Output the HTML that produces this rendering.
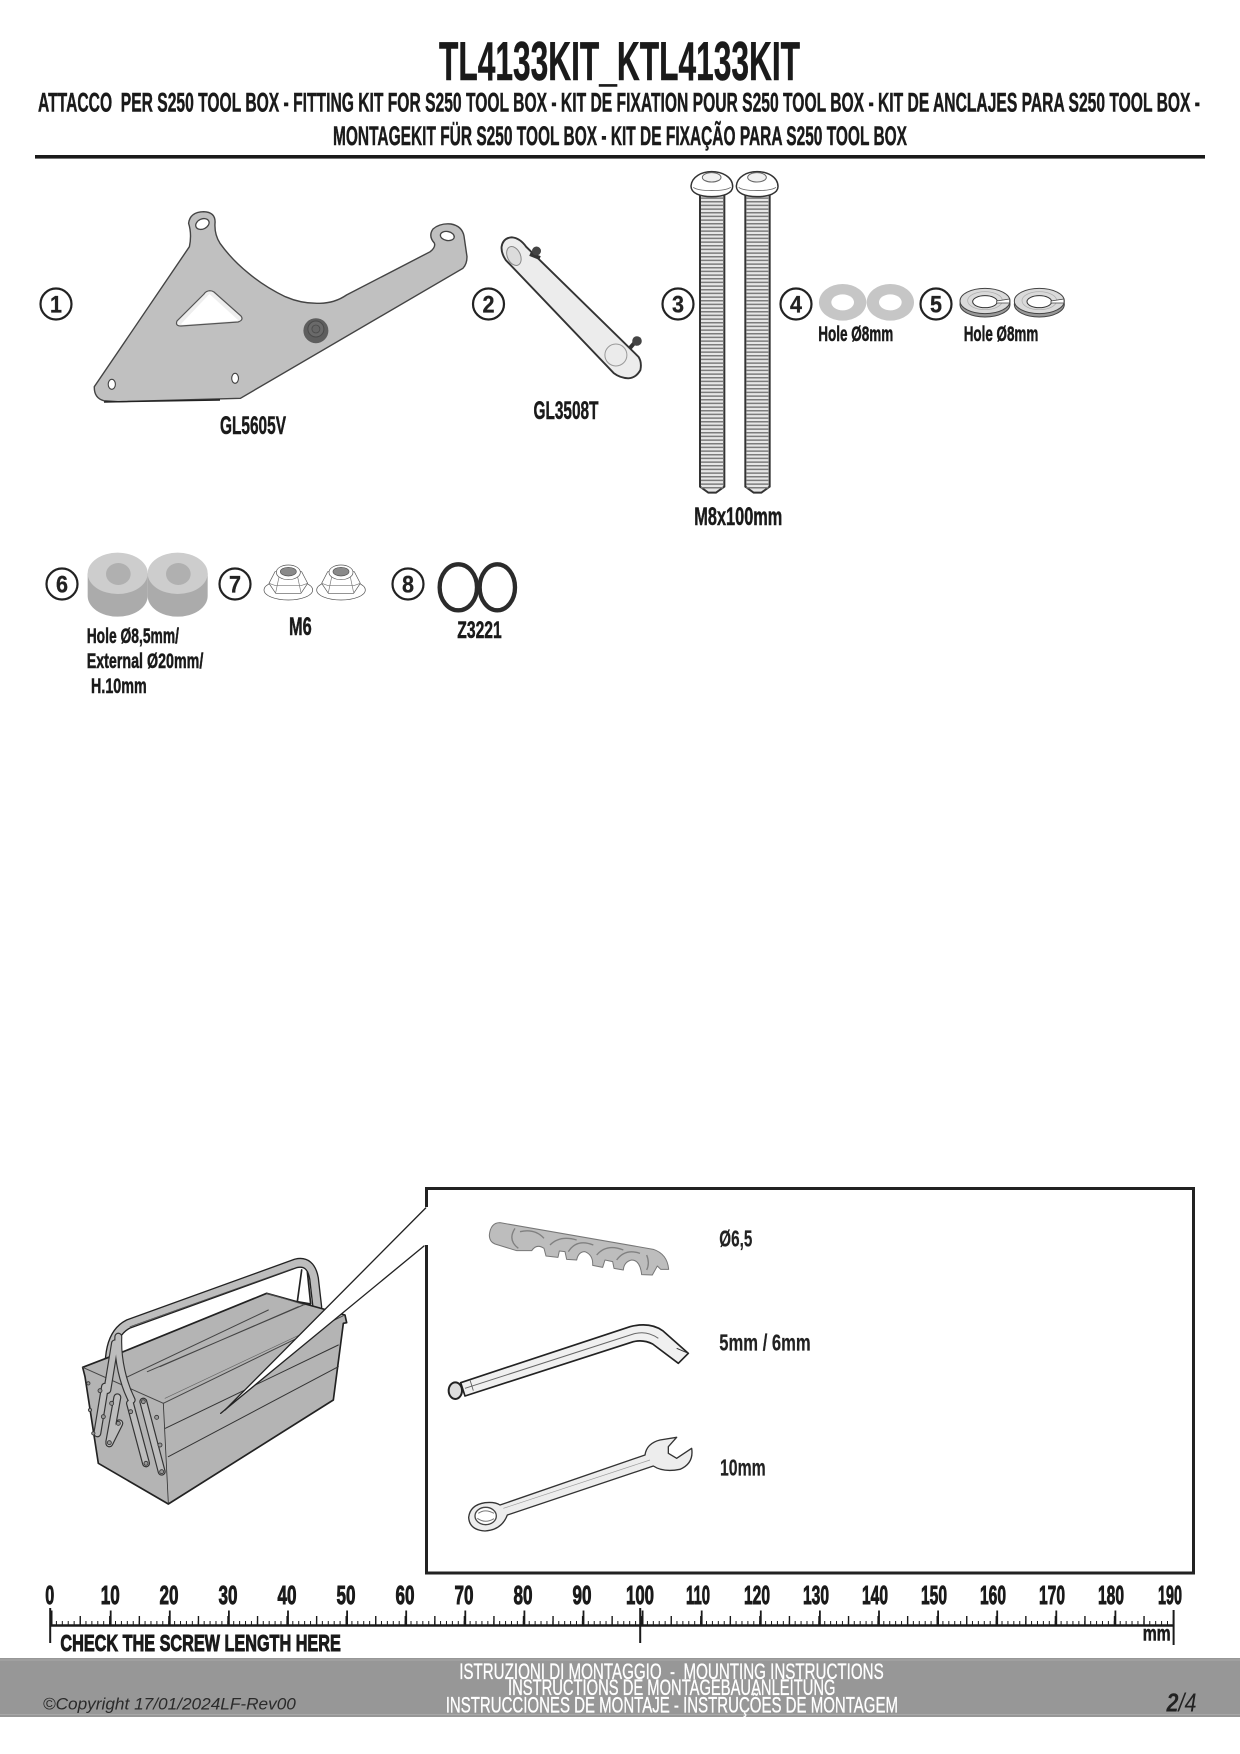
<!DOCTYPE html>
<html><head><meta charset="utf-8"><style>
html,body{margin:0;padding:0;background:#fff}
svg{display:block}
text{font-family:"Liberation Sans",sans-serif}
.b{font-weight:bold;fill:#1a1a1a;stroke:#1a1a1a;stroke-width:.5}
.h{font-weight:bold;fill:#1a1a1a;stroke:#1a1a1a;stroke-width:.9}
.n{fill:#222;stroke:#222;stroke-width:.2;font-weight:bold}
.f{fill:#fff;stroke:#fff;stroke-width:.35;font-size:22px}
.c{fill:#fff;stroke:#222;stroke-width:2.2}
.cn{font-weight:bold;font-size:24px;fill:#222;stroke:#222;stroke-width:.3}
</style></head><body>
<svg width="1240" height="1754" viewBox="0 0 1240 1754" xmlns="http://www.w3.org/2000/svg">
<defs>
<g id="bolt">
<path d="M180,100 V980 L205,998 H228 L253,980 V100 Z" fill="#e6e6e6" stroke="#333" stroke-width="6"/>
<line x1="216" y1="112" x2="216" y2="990" stroke="#7c7c7c" stroke-width="66" stroke-dasharray="4.5 6.5"/>
<path d="M153,78 C155,50 185,35 215,35 C245,35 278,50 278,80 C278,100 250,110 215,110 C180,110 153,100 153,78Z" fill="#fff" stroke="#333" stroke-width="4.5"/>
<path d="M160,82 C175,95 255,95 272,82" fill="none" stroke="#666" stroke-width="2.5"/>
<ellipse cx="215" cy="52" rx="28" ry="14" fill="#f0f0f0" stroke="#666" stroke-width="3"/>
</g>
<g id="washer"><ellipse cx="0" cy="0" rx="71" ry="55" fill="#c6c6c6"/><ellipse cx="0" cy="0" rx="34" ry="24" fill="#fff"/></g>
<g id="lock">
<ellipse cx="0" cy="8" rx="75" ry="38" fill="#999" stroke="#444" stroke-width="3"/>
<ellipse cx="0" cy="-2" rx="75" ry="38" fill="#dadada" stroke="#444" stroke-width="3"/>
<ellipse cx="0" cy="0" rx="37" ry="18" fill="#fff" stroke="#333" stroke-width="3"/>
<ellipse cx="0" cy="-3" rx="52" ry="27" fill="none" stroke="#aaa" stroke-width="2"/>
<path d="M35,-2 L74,-8 V4 L35,4Z" fill="#fff" stroke="#444" stroke-width="2.5"/>
</g>
<g id="spacer">
<path d="M-90,0 V68 A90,62 0 0 0 90,68 V0Z" fill="#ababab"/>
<ellipse cx="0" cy="0" rx="90" ry="62" fill="#cdcdcd"/>
<ellipse cx="2" cy="2" rx="37" ry="33" fill="#b0b0b0"/>
</g>
<g id="nut" fill="#fff" stroke="#555" stroke-width="2">
<ellipse cx="0" cy="25" rx="73" ry="30"/>
<path d="M-58,5 L-40,-30 H40 L58,5 L38,35 H-38Z"/>
<path d="M-25,-28 L-38,33 M25,-28 L38,33 M-58,5 L-38,12 H38 L58,5" stroke="#777" fill="none"/>
<ellipse cx="0" cy="-28" rx="36" ry="22"/>
<ellipse cx="0" cy="-30" rx="24" ry="13" fill="#8a8a8a"/>
</g>
</defs>

<!-- Header -->
<text x="439" y="80" font-size="55" class="b" textLength="361" lengthAdjust="spacingAndGlyphs">TL4133KIT_KTL4133KIT</text>
<text x="38" y="111.5" font-size="27" class="b" textLength="1162" lengthAdjust="spacingAndGlyphs" xml:space="preserve">ATTACCO  PER S250 TOOL BOX - FITTING KIT FOR S250 TOOL BOX - KIT DE FIXATION POUR S250 TOOL BOX - KIT DE ANCLAJES PARA S250 TOOL BOX -</text>
<text x="333" y="145" font-size="27" class="b" textLength="574" lengthAdjust="spacingAndGlyphs">MONTAGEKIT FÜR S250 TOOL BOX - KIT DE FIXAÇÃO PARA S250 TOOL BOX</text>
<rect x="35" y="155" width="1170" height="3.6" fill="#1a1a1a"/>

<!-- Circled numbers -->
<g>
<circle class="c" cx="56" cy="304" r="15.5"/><text class="cn" x="50" y="312.5" textLength="12" lengthAdjust="spacingAndGlyphs">1</text>
<circle class="c" cx="488.5" cy="304" r="15.5"/><text class="cn" x="482.5" y="312.5" textLength="12" lengthAdjust="spacingAndGlyphs">2</text>
<circle class="c" cx="678" cy="304" r="15.5"/><text class="cn" x="672" y="312.5" textLength="12" lengthAdjust="spacingAndGlyphs">3</text>
<circle class="c" cx="796" cy="304" r="15.5"/><text class="cn" x="790" y="312.5" textLength="12" lengthAdjust="spacingAndGlyphs">4</text>
<circle class="c" cx="936" cy="304" r="15.5"/><text class="cn" x="930" y="312.5" textLength="12" lengthAdjust="spacingAndGlyphs">5</text>
<circle class="c" cx="62" cy="584" r="15.5"/><text class="cn" x="56" y="592.5" textLength="12" lengthAdjust="spacingAndGlyphs">6</text>
<circle class="c" cx="235" cy="584" r="15.5"/><text class="cn" x="229" y="592.5" textLength="12" lengthAdjust="spacingAndGlyphs">7</text>
<circle class="c" cx="408" cy="584" r="15.5"/><text class="cn" x="402" y="592.5" textLength="12" lengthAdjust="spacingAndGlyphs">8</text>
</g>

<!-- Part 1 bracket -->
<path d="M94.3,386.7 L189.4,246.7 Q192,234 188.6,223.3 Q190,212 203.7,211.7 Q215,212 215.1,222 Q214,234 220,243.3 Q232,260 248.6,273.3 Q265,287 285.3,296.7 Q302,304 320,303.3 Q335,303 346.5,295 L430.2,251.7 Q436,247 434.3,243 Q428,236 433,229 Q440,223 451,224 Q462,226 464,236 L467,256.7 Q467,264 462.9,268.3 L240.4,398.3 L118,401.7 L103.7,400.7 Q94,398 94.3,386.7Z" fill="#c0c0c0" stroke="#444" stroke-width="1.4"/>
<path d="M104,402 L220,400" stroke="#222" stroke-width="1.4"/>
<path d="M209.8,290.7 Q206,291 204,294 L177,321 Q175,326 181,326 L238,322 Q244,320 241,316 L214,292 Q212,290.7 209.8,290.7Z" fill="#eee" stroke="#555" stroke-width="1.2"/>
<path d="M209.5,295 L182,324 L237,320Z" fill="#fff" stroke="#fff" stroke-width="1.5" stroke-linejoin="round"/>
<ellipse cx="202.4" cy="224" rx="7" ry="5" fill="#fff" stroke="#444" stroke-width="1.3" transform="rotate(-25 202.4 224)"/>
<ellipse cx="447.3" cy="236" rx="7" ry="4.5" fill="#fff" stroke="#444" stroke-width="1.3" transform="rotate(10 447.3 236)"/>
<ellipse cx="111.8" cy="384.3" rx="3.6" ry="5" fill="#fff" stroke="#444" stroke-width="1.1"/>
<ellipse cx="235.1" cy="378.3" rx="3.4" ry="5" fill="#fff" stroke="#444" stroke-width="1.1"/>
<circle cx="315.9" cy="330.7" r="12.5" fill="#5e5e5e"/>
<circle cx="315.9" cy="329" r="8" fill="#6a6a6a" stroke="#4a4a4a" stroke-width="1"/>
<circle cx="315.9" cy="329" r="4" fill="#666" stroke="#4a4a4a" stroke-width=".8"/>
<text x="220" y="434" font-size="25" class="b" textLength="66" lengthAdjust="spacingAndGlyphs">GL5605V</text>

<!-- Part 2 -->
<path d="M501.6,246.7 Q503,238 511.8,237.3 Q520,238 526.1,246.7 L638.4,356.7 Q642,362 640.4,370 Q636,378 628.2,378.3 Q620,378 613.9,373.3 L505.7,260 Q501,253 501.6,246.7Z" fill="#ececec" stroke="#333" stroke-width="1.9"/>
<ellipse cx="513.9" cy="256" rx="6.5" ry="10" fill="#dcdcdc" stroke="#888" transform="rotate(-25 513.9 256)"/>
<circle cx="615.9" cy="355" r="11" fill="#ebebeb" stroke="#999"/>
<path d="M530,254 L540,258" stroke="#333" stroke-width="4"/><circle cx="536.5" cy="251" r="4.5" fill="#444"/>
<path d="M630,348 L637,340" stroke="#333" stroke-width="4"/><circle cx="637" cy="341" r="4.8" fill="#444"/>
<text x="533.5" y="419" font-size="25" class="b" textLength="65" lengthAdjust="spacingAndGlyphs">GL3508T</text>

<!-- Part 3 bolts -->
<g transform="translate(640 160) scale(.33333)">
<use href="#bolt"/><use href="#bolt" x="136"/>
</g>
<text x="694.3" y="525" font-size="25" class="b" textLength="88" lengthAdjust="spacingAndGlyphs">M8x100mm</text>

<!-- Parts 4, 5 -->
<g transform="translate(640 160) scale(.33333)">
<use href="#washer" x="608" y="427"/><use href="#washer" x="751" y="427"/>
<use href="#lock" x="1035" y="425"/><use href="#lock" x="1198" y="425"/>
</g>
<text x="818.3" y="341" font-size="21" class="b" textLength="75" lengthAdjust="spacingAndGlyphs">Hole Ø8mm</text>
<text x="963.7" y="341" font-size="21" class="b" textLength="74.6" lengthAdjust="spacingAndGlyphs">Hole Ø8mm</text>

<!-- Part 6, 7, 8 -->
<g transform="translate(30 530) scale(.33333)">
<use href="#spacer" x="443" y="130"/><use href="#spacer" x="263" y="130"/>
<use href="#nut" x="775" y="155"/><use href="#nut" x="933" y="155"/>
<ellipse cx="1285" cy="172" rx="56" ry="69" fill="none" stroke="#2b2b2b" stroke-width="13"/>
<ellipse cx="1402" cy="172" rx="53" ry="69" fill="none" stroke="#2b2b2b" stroke-width="13"/>
</g>
<text x="86.7" y="643" font-size="21" class="b" textLength="92.3" lengthAdjust="spacingAndGlyphs">Hole Ø8,5mm/</text>
<text x="86.7" y="668" font-size="21" class="b" textLength="116.6" lengthAdjust="spacingAndGlyphs">External Ø20mm/</text>
<text x="91" y="693" font-size="21" class="b" textLength="55.7" lengthAdjust="spacingAndGlyphs">H.10mm</text>
<text x="289" y="635" font-size="25" class="b" textLength="22.7" lengthAdjust="spacingAndGlyphs">M6</text>
<text x="457.3" y="638" font-size="24" class="b" textLength="44.4" lengthAdjust="spacingAndGlyphs">Z3221</text>

<!-- Toolbox -->
<g transform="translate(60 1170) scale(.33333)" stroke-linejoin="round" stroke-linecap="round">
<path d="M150,655 C143,560 150,490 205,462 L708,280 Q752,270 762,325 L772,412" fill="none" stroke="#222" stroke-width="30"/>
<path d="M150,655 C143,560 150,490 205,462 L708,280 Q752,270 762,325 L772,412" fill="none" stroke="#bdbdbd" stroke-width="22"/>
<path d="M725,300 L712,395 L752,402 L742,305" fill="#fff" stroke="#222" stroke-width="5"/>
<path d="M210,470 L700,295" fill="none" stroke="#444" stroke-width="2"/>
<path d="M68,592 L190,545 L620,370 L855,435 L860,458 L850,460 L820,690 L325,1002 L115,880 L75,620 Z" fill="#b4b4b4" stroke="#222" stroke-width="5"/>
<path d="M310,700 L325,1000" fill="none" stroke="#333" stroke-width="2.5"/>
<path d="M68,592 L310,700 L850,437" fill="none" stroke="#444" stroke-width="3"/>
<path d="M315,685 L835,440" fill="none" stroke="#666" stroke-width="2"/>
<path d="M316,775 L835,525 M325,860 L835,590" fill="none" stroke="#333" stroke-width="3"/>
<path d="M195,624 L625,420 M262,605 L730,405 M300,590 L715,410" fill="none" stroke="#444" stroke-width="3"/>
<path d="M620,370 L735,405" fill="none" stroke="#555" stroke-width="2"/>
<g fill="none">
<g stroke="#333" stroke-width="24">
<path d="M135,650 L112,790"/><path d="M172,682 L148,815"/><path d="M178,760 L148,820"/>
<path d="M250,695 L305,905"/><path d="M210,700 L258,880"/>
<path d="M175,500 C172,570 190,640 215,690"/><path d="M165,520 L142,660"/>
</g>
<g stroke="#bdbdbd" stroke-width="17">
<path d="M135,650 L112,790"/><path d="M172,682 L148,815"/><path d="M178,760 L148,820"/>
<path d="M250,695 L305,905"/><path d="M210,700 L258,880"/>
<path d="M175,500 C172,570 190,640 215,690"/><path d="M165,520 L142,660"/>
</g>
</g>
<g fill="#999" stroke="#333" stroke-width="2.5">
<circle cx="250" cy="695" r="6"/><circle cx="305" cy="905" r="6"/><circle cx="258" cy="880" r="6"/><circle cx="212" cy="725" r="6"/>
<circle cx="290" cy="742" r="6"/><circle cx="300" cy="825" r="6"/><circle cx="175" cy="760" r="6"/><circle cx="148" cy="818" r="6"/>
<circle cx="120" cy="662" r="6"/><circle cx="130" cy="740" r="6"/><circle cx="155" cy="700" r="6"/><circle cx="85" cy="640" r="5"/><circle cx="90" cy="720" r="5"/><circle cx="100" cy="790" r="5"/>
</g>
<path d="M1097,112 L490,725 L480,730 L1097,225Z" fill="#fff" stroke="none"/>
<path d="M1097,114 L495,720" stroke="#222" stroke-width="4" fill="none"/>
<path d="M1092,228 L482,730" stroke="#222" stroke-width="4" fill="none"/>
</g>

<!-- Frame -->
<path d="M426.5,1207 V1188.5 H1193.5 V1573 H426.5 V1245" fill="none" stroke="#222" stroke-width="3"/>

<!-- Tools -->
<g transform="translate(420 1180) scale(.33333)" stroke-linejoin="round">
<path d="M208,165 Q212,128 240,128 L700,208 Q742,222 746,268 L722,268 L712,258 L697,285 L665,284 Q660,240 635,240 Q612,245 610,270 L582,265 L578,245 L555,240 L548,262 L518,256 Q520,225 495,215 Q475,215 470,240 L440,238 L435,215 L418,213 L414,232 L378,228 L372,205 Q350,190 335,212 L290,212 L225,192 Q208,185 208,165Z" fill="#bdbdbd" stroke="#777" stroke-width="3"/>
<path d="M285,145 Q262,180 295,205 M300,155 Q345,145 372,175 M390,195 Q420,165 470,180 M445,215 Q470,175 520,195 M530,225 Q560,190 610,210 M590,240 Q615,205 660,220 M680,225 Q690,250 680,270" fill="none" stroke="#808080" stroke-width="4"/>
<path d="M122,608 L630,440 Q690,425 728,452 L805,520 L775,550 L698,492 Q670,478 640,485 L135,648 Z" fill="#f0f0f0" stroke="#222" stroke-width="5"/>
<path d="M135,625 L640,462 Q680,450 715,475" fill="none" stroke="#666" stroke-width="3"/>
<path d="M150,600 L160,632" stroke="#555" stroke-width="2.5"/>
<path d="M770,505 L805,520" stroke="#333" stroke-width="3"/>
<ellipse cx="106" cy="632" rx="20" ry="25" fill="#ddd" stroke="#222" stroke-width="6"/>
<path d="M240,975 L675,825 Q680,790 720,780 L770,772 L745,800 L745,820 L770,835 L815,805 Q822,850 780,868 Q730,878 700,858 L262,1005 Q245,1050 195,1053 Q148,1050 146,1012 Q150,975 195,968 Q225,965 240,975Z" fill="#ededed" stroke="#333" stroke-width="4"/>
<ellipse cx="197" cy="1008" rx="32" ry="26" fill="#fff" stroke="#444" stroke-width="4"/>
<path d="M175,1000 Q195,985 222,1000 M172,1015 Q195,1032 222,1016" fill="none" stroke="#777" stroke-width="3"/>
<path d="M250,985 L690,840" fill="none" stroke="#999" stroke-width="2"/>
</g>
<g class="n" fill="#222">
<text x="719.3" y="1246.7" font-size="23" class="n" textLength="33" lengthAdjust="spacingAndGlyphs">Ø6,5</text>
<text x="719.3" y="1350.5" font-size="23" class="n" textLength="91.4" lengthAdjust="spacingAndGlyphs">5mm / 6mm</text>
<text x="720" y="1475.5" font-size="23" class="n" textLength="45.7" lengthAdjust="spacingAndGlyphs">10mm</text>
</g>

<!-- Ruler -->
<g stroke="#1a1a1a" fill="none">
<line x1="50" y1="1625.5" x2="1174" y2="1625.5" stroke-width="2.6"/>
<line x1="50" y1="1623" x2="1174" y2="1623" stroke-width="4" stroke-dasharray="1 4.91"/>
<line x1="50" y1="1620.5" x2="1174" y2="1620.5" stroke-width="9" stroke-dasharray="1.4 28.15"/>
<line x1="50.7" y1="1618" x2="1174" y2="1618" stroke-width="15" stroke-dasharray="1.8 57.3"/>
<line x1="50.2" y1="1608" x2="50.2" y2="1643" stroke-width="2"/>
<line x1="640.2" y1="1608" x2="640.2" y2="1643" stroke-width="2"/>
<line x1="1173.6" y1="1610" x2="1173.6" y2="1645" stroke-width="2"/>
</g>
<g class="h" font-size="26" text-anchor="middle">
<text x="49.8" y="1604" class="h" text-anchor="middle" textLength="9" lengthAdjust="spacingAndGlyphs">0</text>
<text x="110.2" y="1604" class="h" text-anchor="middle" textLength="19" lengthAdjust="spacingAndGlyphs">10</text>
<text x="169" y="1604" class="h" text-anchor="middle" textLength="19" lengthAdjust="spacingAndGlyphs">20</text>
<text x="228" y="1604" class="h" text-anchor="middle" textLength="19" lengthAdjust="spacingAndGlyphs">30</text>
<text x="287" y="1604" class="h" text-anchor="middle" textLength="19" lengthAdjust="spacingAndGlyphs">40</text>
<text x="346" y="1604" class="h" text-anchor="middle" textLength="19" lengthAdjust="spacingAndGlyphs">50</text>
<text x="405" y="1604" class="h" text-anchor="middle" textLength="19" lengthAdjust="spacingAndGlyphs">60</text>
<text x="464" y="1604" class="h" text-anchor="middle" textLength="19" lengthAdjust="spacingAndGlyphs">70</text>
<text x="523" y="1604" class="h" text-anchor="middle" textLength="19" lengthAdjust="spacingAndGlyphs">80</text>
<text x="582" y="1604" class="h" text-anchor="middle" textLength="19" lengthAdjust="spacingAndGlyphs">90</text>
<text x="640" y="1604" class="h" text-anchor="middle" textLength="28" lengthAdjust="spacingAndGlyphs">100</text>
<text x="698" y="1604" class="h" text-anchor="middle" textLength="24" lengthAdjust="spacingAndGlyphs">110</text>
<text x="757" y="1604" class="h" text-anchor="middle" textLength="26" lengthAdjust="spacingAndGlyphs">120</text>
<text x="816" y="1604" class="h" text-anchor="middle" textLength="26" lengthAdjust="spacingAndGlyphs">130</text>
<text x="875" y="1604" class="h" text-anchor="middle" textLength="26" lengthAdjust="spacingAndGlyphs">140</text>
<text x="934" y="1604" class="h" text-anchor="middle" textLength="26" lengthAdjust="spacingAndGlyphs">150</text>
<text x="993" y="1604" class="h" text-anchor="middle" textLength="26" lengthAdjust="spacingAndGlyphs">160</text>
<text x="1052" y="1604" class="h" text-anchor="middle" textLength="26" lengthAdjust="spacingAndGlyphs">170</text>
<text x="1111" y="1604" class="h" text-anchor="middle" textLength="26" lengthAdjust="spacingAndGlyphs">180</text>
<text x="1170" y="1604" class="h" text-anchor="middle" textLength="24" lengthAdjust="spacingAndGlyphs">190</text>
</g>
<text x="60.4" y="1651" font-size="23" class="h" textLength="280.4" lengthAdjust="spacingAndGlyphs">CHECK THE SCREW LENGTH HERE</text>
<text x="1142.7" y="1640.7" font-size="21" class="b" textLength="28" lengthAdjust="spacingAndGlyphs">mm</text>

<!-- Footer -->
<rect x="0" y="1658" width="1240" height="59" fill="#979797"/>
<rect x="0" y="1659.5" width="1240" height="1" fill="#a8a8a8"/>
<rect x="0" y="1714" width="1240" height="1" fill="#a8a8a8"/>
<text x="459.2" y="1679" class="f" textLength="424.5" lengthAdjust="spacingAndGlyphs" xml:space="preserve">ISTRUZIONI DI MONTAGGIO  -  MOUNTING INSTRUCTIONS</text>
<text x="508" y="1695" class="f" textLength="327.5" lengthAdjust="spacingAndGlyphs">INSTRUCTIONS DE MONTAGEBAUANLEITUNG</text>
<text x="445.7" y="1712.5" class="f" textLength="452.3" lengthAdjust="spacingAndGlyphs">INSTRUCCIONES DE MONTAJE - INSTRUÇÕES DE MONTAGEM</text>
<text x="42.9" y="1709.5" font-size="17" font-style="italic" fill="#2a2a2a" textLength="253" lengthAdjust="spacingAndGlyphs">©Copyright 17/01/2024LF-Rev00</text>
<text x="1166.5" y="1711.5" font-size="26" font-style="italic" fill="#222" textLength="30" lengthAdjust="spacingAndGlyphs"><tspan font-weight="bold">2</tspan>/4</text>
</svg>
</body></html>
